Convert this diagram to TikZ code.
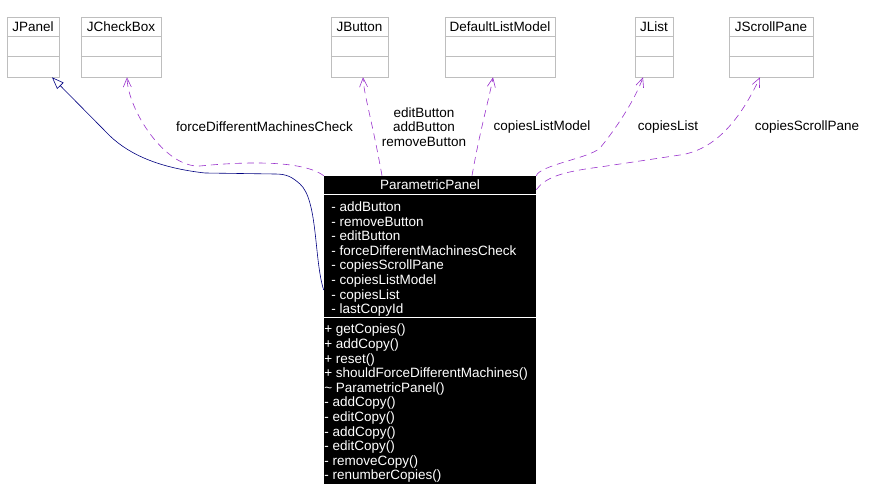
\documentclass[tikz,border=0pt]{standalone}
\usepackage{fontspec}
\setmainfont{Liberation Sans}
\usetikzlibrary{arrows.meta}
\definecolor{boxgray}{RGB}{190,190,190}
\definecolor{deppurple}{RGB}{153,50,204}
\definecolor{gennavy}{RGB}{0,0,128}
\begin{document}
\begin{tikzpicture}[x=1pt,y=-1pt,line width=.6pt,font=\fontsize{13.5}{14.6}\selectfont,
	classbox/.style={draw=boxgray,minimum height=60,inner sep=0},
	dep/.style={draw=deppurple,dash pattern=on 7pt off 5pt,-{Straight Barb[length=9pt,width=8pt]}},
	gen/.style={draw=gennavy,-{Triangle[open,length=12pt,width=9pt]}},
	member/.style={text=white,anchor=base west,inner sep=0}]
	\useasboundingbox (0,0) rectangle (892,502);
	\foreach \nm/\cx/\bw/\ttl in {jpanel/33/52/JPanel,jcheck/121/80/JCheckBox,jbutton/359.5/57/JButton,dlm/500/110/DefaultListModel,jlist/654/38/JList,jscroll/771/84/JScrollPane}{
		\node[classbox,minimum width=\bw] (\nm) at (\cx,47) {};
		\node (\nm-title) at ([yshift=-10pt]\nm.north) {\ttl};
		\draw[boxgray] ([yshift=-20pt]\nm.north west) -- ([yshift=-20pt]\nm.north east)
			([yshift=-40pt]\nm.north west) -- ([yshift=-40pt]\nm.north east);
	}
	\node[fill=black,minimum width=212,minimum height=308,inner sep=0] (pp) at (430,330) {};
	\node[text=white] (pp-title) at (430,185) {ParametricPanel};
	\draw[white] ([yshift=-19pt]pp.north west) -- ([yshift=-19pt]pp.north east)
		([yshift=-142pt]pp.north west) -- ([yshift=-142pt]pp.north east);
	\foreach \a [count=\i] in {addButton,removeButton,editButton,forceDifferentMachinesCheck,copiesScrollPane,copiesListModel,copiesList,lastCopyId}{
		\node[member] (attr\i) at (331,{197+14.6*\i}) {- \a};
	}
	\foreach \m [count=\i] in {+ getCopies(),+ addCopy(),+ reset(),+ shouldForceDifferentMachines(),{\textasciitilde{} ParametricPanel()},- addCopy(),- editCopy(),- addCopy(),- editCopy(),- removeCopy(),- renumberCopies()}{
		\node[member] (meth\i) at (324,{319.4+14.6*\i}) {\m};
	}
	\draw[gen] ([yshift=40pt]pp.west) .. controls (314,260) and (318,200) .. (300,184) .. controls (292,177) and (287,174) .. (275,174) -- (205,173) .. controls (160,168) and (130,155) .. (110,136) -- ([xshift=19pt]jpanel.south);
	\draw[dep] (pp.north west) .. controls (300,158) and (230,163) .. (200,166) .. controls (165,168) and (128,110) .. ([xshift=6pt]jcheck.south);
	\draw[dep] ([xshift=-48pt]pp.north) .. controls (372,120) and (364,95) .. ([xshift=3.5pt]jbutton.south);
	\draw[dep] ([xshift=42pt]pp.north) .. controls (480,130) and (490,95) .. ([xshift=-7pt]dlm.south);
	\draw[dep] (pp.north east) .. controls (540,165) and (590,158) .. (600,148) .. controls (615,130) and (635,100) .. ([xshift=-11pt]jlist.south);
	\draw[dep] ([yshift=-14pt]pp.north east) .. controls (545,178) and (560,172) .. (600,167) -- (680,155) .. controls (715,150) and (740,120) .. ([xshift=-11pt]jscroll.south);
	\node (lforce) at (264.5,127) {forceDifferentMachinesCheck};
	\node[align=center] (lbuttons) at (424,127) {editButton\\addButton\\removeButton};
	\node (lmodel) at (542,127) {copiesListModel};
	\node (llist) at (668,127) {copiesList};
	\node (lscroll) at (807,127) {copiesScrollPane};
\end{tikzpicture}
\end{document}
